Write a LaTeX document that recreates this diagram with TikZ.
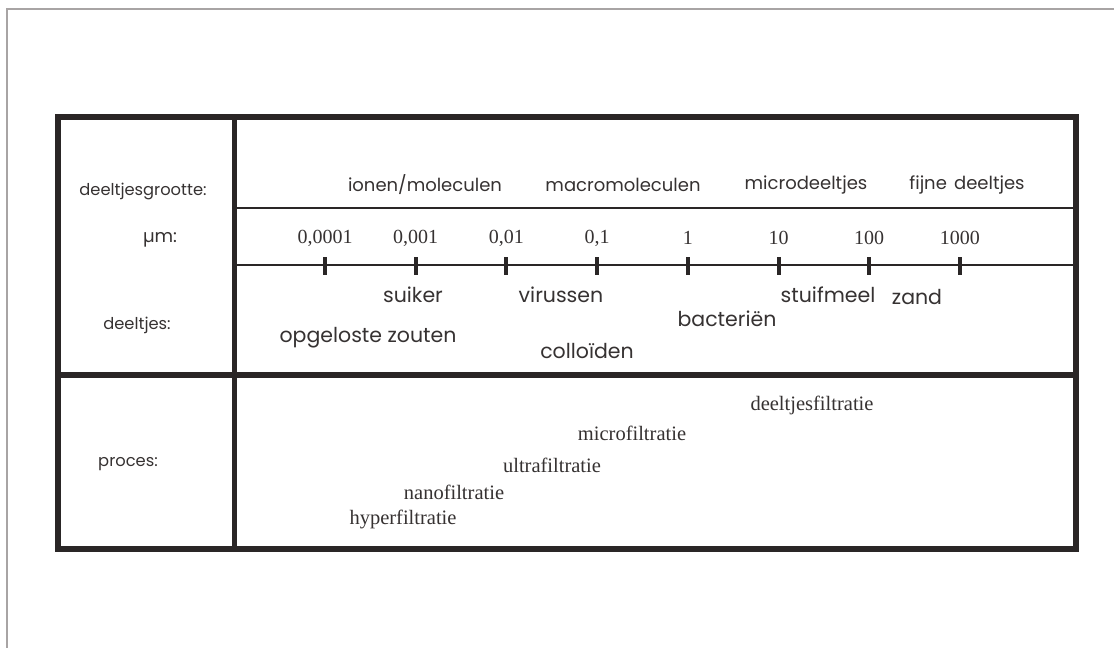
\documentclass[tikz,border=0pt]{standalone}
\usepackage{fontspec}
\setmainfont{Liberation Serif}
\newfontfamily\gothic{Poppins}
\definecolor{ink}{HTML}{2A2626}
\definecolor{txt}{HTML}{363232}
\definecolor{frame}{HTML}{A8A4A4}
\begin{document}
\begin{tikzpicture}[x=1pt,y=-1pt,
  heavy/.style={draw=ink,line width=6.5pt},
  divider/.style={draw=ink,line width=5pt},
  thinrule/.style={draw=ink,line width=2pt},
  tickmark/.style={draw=ink,line width=4pt},
  rowlabel/.style={text=txt,font=\gothic\fontsize{16.3}{18}\selectfont,inner sep=0pt},
  band/.style={text=txt,font=\gothic\fontsize{18}{20}\selectfont,inner sep=0pt},
  particle/.style={text=txt,font=\gothic\fontsize{20.5}{22}\selectfont,inner sep=0pt},
  scalenum/.style={text=txt,font=\fontsize{20}{22}\selectfont,inner sep=0pt},
  procname/.style={text=txt,font=\fontsize{20.5}{22}\selectfont,inner sep=0pt}]
\useasboundingbox (0,0) rectangle (1114,648);
\fill[white] (0,0) rectangle (1114,648);
% page frame
\draw[frame,line width=1.6pt] (7,648) -- (7,9) -- (1114,9);
% table
\coordinate (tl) at (58,117);
\coordinate (br) at (1076,549);
\draw[divider] (234,117) -- (234,549);
\draw[heavy] (58,375) -- (1076,375);
\draw[thinrule] (234,208) -- (1076,208);
\draw[thinrule] (234,265) -- (1076,265);
\draw[heavy] (tl) rectangle (br);
% scale ticks and values
\foreach \lab/\i in {{0,0001}/0,{0,001}/1,{0,01}/2,{0,1}/3,1/4,10/5,100/6,1000/7} {
  \pgfmathsetmacro{\xx}{325+90.7*\i}
  \draw[tickmark] (\xx,257) -- (\xx,275);
  \node[scalenum] (n\i) at (\xx,238) {\lab};
}
% left column labels
\node[rowlabel] (lsize) at (143,191) {deeltjesgrootte:};
\node[rowlabel,font=\gothic\fontsize{18}{20}\selectfont] (lum) at (160,240) {µm:};
\node[rowlabel] (lpart) at (137,325) {deeltjes:};
\node[rowlabel] (lproc) at (128,464) {proces:};
% size classes
\node[band] (b1) at (425,185) {ionen/moleculen};
\node[band] (b2) at (623,185) {macromoleculen};
\node[band] (b3) at (806,185) {microdeeltjes};
\node[band] (b4) at (967,185) {fijne\hspace{0.4em}deeltjes};
% particles
\node[particle] (p1) at (413,295) {suiker};
\node[particle] (p2) at (561,295) {virussen};
\node[particle] (p3) at (828,295) {stuifmeel};
\node[particle] (p4) at (917,297) {zand};
\node[particle] (p5) at (727,319) {bacteriën};
\node[particle] (p6) at (368,338) {opgeloste zouten};
\node[particle] (p7) at (587,351) {colloïden};
% processes
\node[procname] (f1) at (812,405) {deeltjesfiltratie};
\node[procname] (f2) at (632,433) {microfiltratie};
\node[procname] (f3) at (552,465) {ultrafiltratie};
\node[procname] (f4) at (454,492) {nanofiltratie};
\node[procname] (f5) at (403,519) {hyperfiltratie};
\end{tikzpicture}
\end{document}
